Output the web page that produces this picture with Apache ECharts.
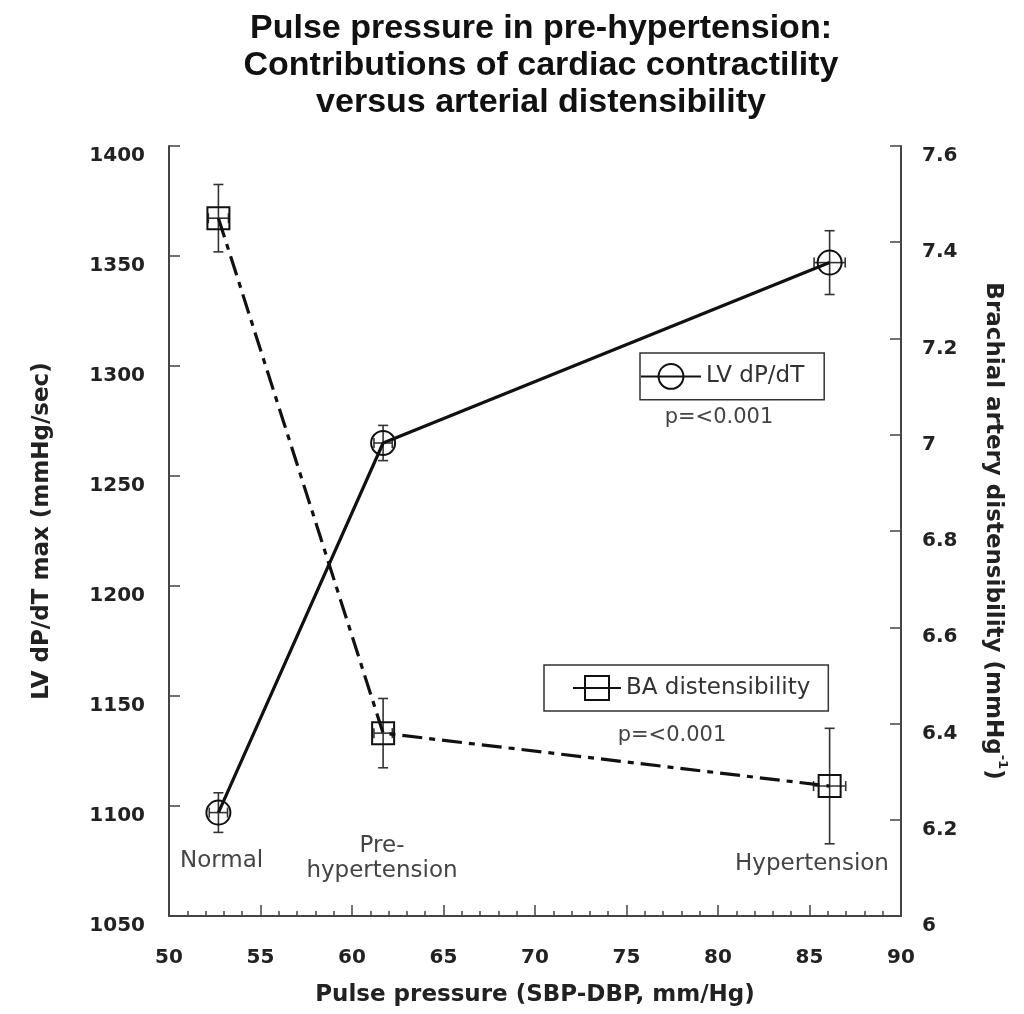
<!DOCTYPE html>
<html>
<head>
<meta charset="utf-8">
<script src="https://cdn.jsdelivr.net/npm/echarts@6/dist/echarts.min.js"></script>
<style>html,body{margin:0;padding:0;background:#fff}#chart{width:1024px;height:1014px}</style>
</head>
<body>
<div id="chart"></div>
<script>
// ---- data ----
const groups = ['Normal', 'Pre-\nhypertension', 'Hypertension'];
const pulsePressure = [52.7, 61.7, 86.1];
const lvDpdt = [1097, 1265, 1347];
const lvErr = [9, 8, 14.5];
const lvXErr = [0.5, 0.5, 0.85];
const baDist = [7.45, 6.38, 6.27];
const baErr = [0.07, 0.072, 0.12];
const baXErr = [0.55, 0.5, 0.88];
const xTicks = [50, 55, 60, 65, 70, 75, 80, 85, 90];
const leftTicks = [1050, 1100, 1150, 1200, 1250, 1300, 1350, 1400];
const rightTicks = [6, 6.2, 6.4, 6.6, 6.8, 7, 7.2, 7.4, 7.6];
const pValues = ['p=<0.001', 'p=<0.001'];
const seriesNames = ['LV dP/dT', 'BA distensibility'];

const chart = echarts.init(document.getElementById('chart'), null, {renderer: 'canvas'});

function errRender(params, api) {
  const x = api.value(0), y = api.value(1), ex = api.value(2), ey = api.value(3);
  const t = api.coord([x, y + ey]), b = api.coord([x, y - ey]);
  const l = api.coord([x - ex, y]), r = api.coord([x + ex, y]);
  const cap = 5;
  const st = {stroke: '#333', lineWidth: 1.6};
  return {type: 'group', children: [
    {type: 'line', shape: {x1: t[0], y1: t[1], x2: b[0], y2: b[1]}, style: st},
    {type: 'line', shape: {x1: t[0] - cap, y1: t[1], x2: t[0] + cap, y2: t[1]}, style: st},
    {type: 'line', shape: {x1: b[0] - cap, y1: b[1], x2: b[0] + cap, y2: b[1]}, style: st},
    {type: 'line', shape: {x1: l[0], y1: l[1], x2: r[0], y2: r[1]}, style: st},
    {type: 'line', shape: {x1: l[0], y1: l[1] - cap, x2: l[0], y2: l[1] + cap}, style: st},
    {type: 'line', shape: {x1: r[0], y1: r[1] - cap, x2: r[0], y2: r[1] + cap}, style: st}
  ]};
}

const tickFont = {fontFamily: 'DejaVu Sans', fontWeight: 'bold', fontSize: 20, color: '#222'};
const nameFont = {fontFamily: 'DejaVu Sans', fontWeight: 'bold', fontSize: 23, color: '#222'};
const axisLineStyle = {color: '#444', width: 2};
const plain = v => String(Math.round(v * 100) / 100);

const option = {
  animation: false,
  backgroundColor: '#fff',
  title: {
    text: 'Pulse pressure in pre-hypertension:\nContributions of cardiac contractility\nversus arterial distensibility',
    left: 536, top: 5, textAlign: 'center',
    textStyle: {fontFamily: 'Liberation Sans', fontWeight: 'bold', fontSize: 34, lineHeight: 37, color: '#111'}
  },
  grid: {left: 169, right: 123, top: 146, bottom: 98},
  legend: [
    {
      data: [seriesNames[0]], left: 640, top: 353, padding: [10, 20, 10, 0],
      itemWidth: 60, itemHeight: 31, borderColor: '#333', borderWidth: 1.5,
      lineStyle: {type: 'solid'},
      textStyle: {fontFamily: 'DejaVu Sans', fontSize: 23, color: '#333'}
    },
    {
      data: [seriesNames[1]], left: 544, top: 665, padding: [10, 18, 10, 28],
      itemWidth: 48, itemHeight: 30, borderColor: '#333', borderWidth: 1.5,
      lineStyle: {type: 'solid'},
      textStyle: {fontFamily: 'DejaVu Sans', fontSize: 23, color: '#333'}
    }
  ],
  xAxis: {
    type: 'value', min: xTicks[0], max: xTicks[xTicks.length - 1], interval: 5,
    name: 'Pulse pressure (SBP-DBP, mm/Hg)', nameLocation: 'middle', nameGap: 68,
    nameTextStyle: nameFont,
    axisLine: {show: true, lineStyle: axisLineStyle},
    axisTick: {show: true, inside: true, length: 11, lineStyle: {color: '#444', width: 1.5}},
    minorTick: {show: true, splitNumber: 5, length: 5, lineStyle: {color: '#444', width: 1.5}},
    axisLabel: Object.assign({margin: 32, formatter: plain}, tickFont),
    splitLine: {show: false}
  },
  yAxis: [
    {
      type: 'value', min: leftTicks[0], max: leftTicks[leftTicks.length - 1], interval: 50,
      name: 'LV dP/dT max (mmHg/sec)', nameLocation: 'middle', nameGap: 115, nameRotate: 90,
      nameTextStyle: nameFont,
      axisLine: {show: true, lineStyle: axisLineStyle},
      axisTick: {show: true, inside: true, length: 11, lineStyle: {color: '#444', width: 1.5}},
      axisLabel: Object.assign({margin: 24, verticalAlign: 'top', formatter: plain}, tickFont),
      splitLine: {show: false}
    },
    {
      type: 'value', min: rightTicks[0], max: rightTicks[rightTicks.length - 1], interval: 0.2,
      position: 'right',
      name: '{a|Brachial artery distensibility (mmHg}{s|-1}{a|)}', nameLocation: 'middle', nameGap: 80, nameRotate: -90,
      nameTextStyle: Object.assign({}, nameFont, {rich: {
        a: {fontFamily: 'DejaVu Sans', fontWeight: 'bold', fontSize: 23, color: '#222', lineHeight: 28, verticalAlign: 'bottom'},
        s: {fontFamily: 'DejaVu Sans', fontWeight: 'bold', fontSize: 13, color: '#222', lineHeight: 28, verticalAlign: 'top'}
      }}),
      axisLine: {show: true, lineStyle: axisLineStyle},
      axisTick: {show: true, inside: true, length: 11, lineStyle: {color: '#444', width: 1.5}},
      axisLabel: Object.assign({margin: 21, verticalAlign: 'top', formatter: plain}, tickFont),
      splitLine: {show: false}
    }
  ],
  series: [
    {
      name: seriesNames[0], type: 'line', yAxisIndex: 0,
      data: pulsePressure.map((x, i) => [x, lvDpdt[i]]),
      symbol: 'circle', symbolSize: 24,
      itemStyle: {color: 'rgba(255,255,255,0)', borderColor: '#111', borderWidth: 2},
      lineStyle: {color: '#111', width: 3.2},
      z: 3
    },
    {
      name: seriesNames[1], type: 'line', yAxisIndex: 1,
      data: pulsePressure.map((x, i) => [x, baDist[i]]),
      symbol: 'rect', symbolSize: 22,
      itemStyle: {color: 'rgba(255,255,255,0)', borderColor: '#111', borderWidth: 2},
      lineStyle: {color: '#111', width: 3.2, type: [20, 7, 6, 7]},
      z: 3
    },
    {
      name: 'LV err', type: 'custom', yAxisIndex: 0, renderItem: errRender,
      data: pulsePressure.map((x, i) => [x, lvDpdt[i], lvXErr[i], lvErr[i]]), z: 2
    },
    {
      name: 'BA err', type: 'custom', yAxisIndex: 1, renderItem: errRender,
      data: pulsePressure.map((x, i) => [x, baDist[i], baXErr[i], baErr[i]]), z: 2
    }
  ],
  graphic: [
    {type: 'text', left: 180, top: 850, style: {text: groups[0], fontFamily: 'DejaVu Sans', fontSize: 23, fill: '#444'}},
    {type: 'text', x: 382, y: 859, style: {text: groups[1], fontFamily: 'DejaVu Sans', fontSize: 23, lineHeight: 25, fill: '#444', align: 'center', verticalAlign: 'middle'}},
    {type: 'text', x: 812, y: 864, style: {text: groups[2], fontFamily: 'DejaVu Sans', fontSize: 23, fill: '#444', align: 'center', verticalAlign: 'middle'}},
    {type: 'text', x: 719, y: 418, style: {text: pValues[0], fontFamily: 'DejaVu Sans', fontSize: 21, fill: '#444', align: 'center', verticalAlign: 'middle'}},
    {type: 'text', x: 672, y: 736, style: {text: pValues[1], fontFamily: 'DejaVu Sans', fontSize: 21, fill: '#444', align: 'center', verticalAlign: 'middle'}}
  ]
};
chart.setOption(option);
</script>
</body>
</html>
